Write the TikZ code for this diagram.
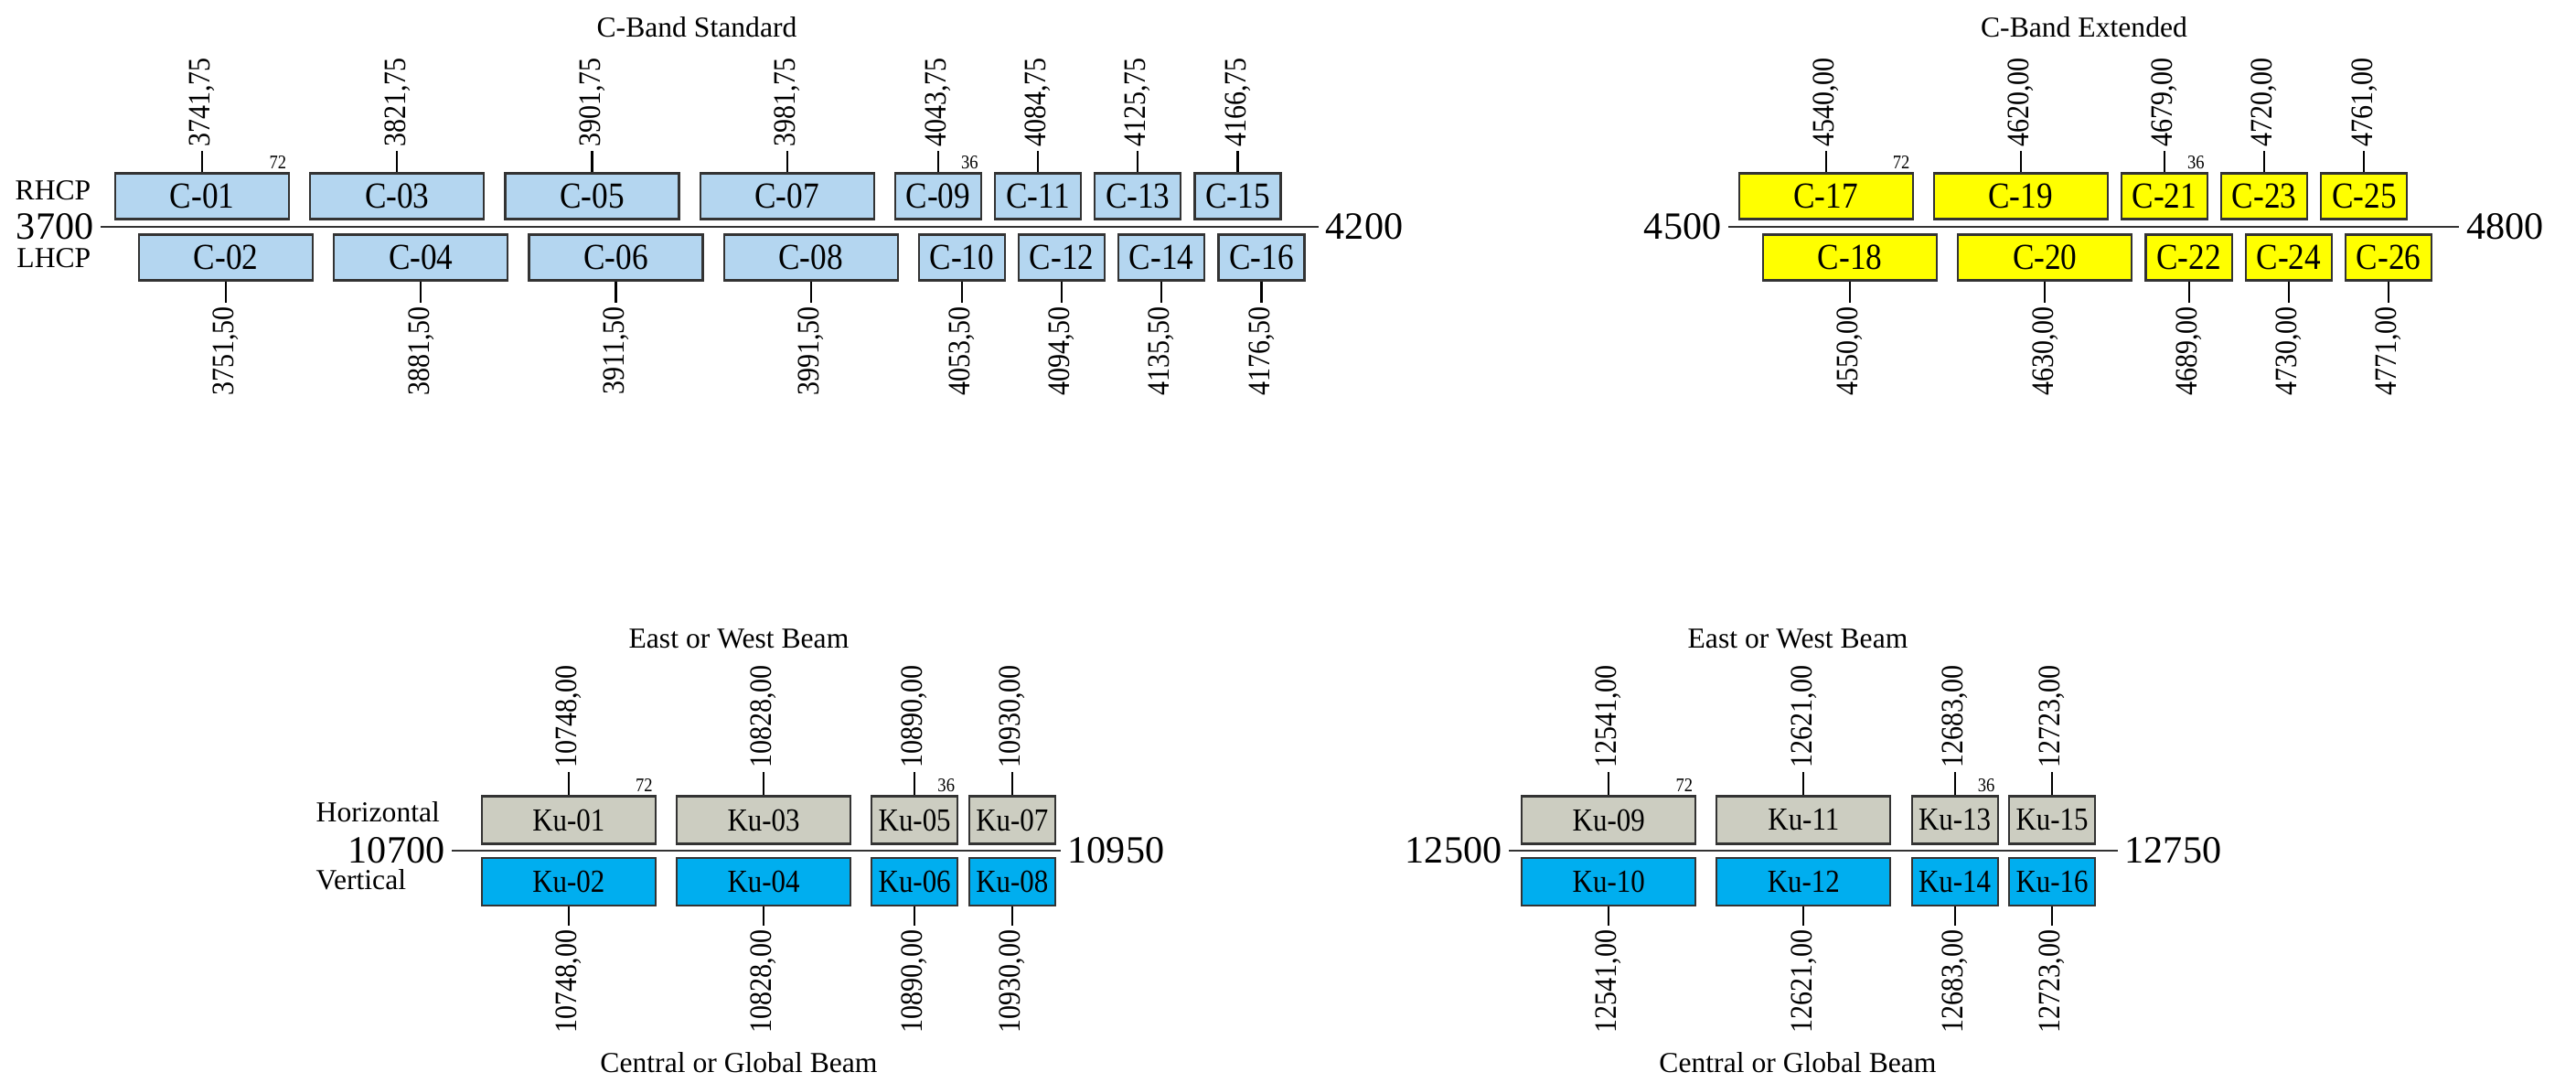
\documentclass[tikz,border=0pt]{standalone}
\usepackage{fontspec}
\setmainfont{Liberation Serif}
\newfontfamily\condfont[FakeStretch=0.88]{Liberation Serif}
\usetikzlibrary{positioning}
\definecolor{cstd}{RGB}{180,214,240}
\definecolor{cext}{RGB}{255,255,0}
\definecolor{kuhor}{RGB}{204,205,193}
\definecolor{kuver}{RGB}{0,174,239}
\definecolor{edgegray}{RGB}{51,51,51}
\tikzstyle{chan} = [draw=edgegray, line width=0.6pt, rectangle, minimum height=0.5cm, inner sep=0pt,
    font=\condfont\fontsize{11.4}{12}\selectfont]
\tikzstyle{kuchan} = [chan, minimum height=0.52cm, font=\condfont\fontsize{10}{11}\selectfont]
\tikzstyle{upnum} = [rotate=90, anchor=west, inner sep=1pt, font=\condfont\fontsize{9.7}{10}\selectfont]
\tikzstyle{downnum} = [upnum, anchor=east]
\tikzstyle{band} = [font=\fontsize{9}{10}\selectfont]
\tikzstyle{pol} = [font=\fontsize{9}{10}\selectfont, inner sep=0pt]
\tikzstyle{edgenum} = [font=\fontsize{12}{13}\selectfont, inner sep=2pt]
\tikzstyle{bw} = [anchor=south east, inner sep=1pt, font=\condfont\fontsize{6}{7}\selectfont]
\tikzstyle{axis} = [draw=edgegray, line width=0.8pt]
\tikzstyle{tick} = [draw=black, line width=0.6pt]

\begin{document}
\begin{tikzpicture}
\useasboundingbox (0,0) rectangle (28.17,11.83);

% C-Band Standard
\node[band] (tstd) at (7.62,11.53) {C-Band Standard};
\node[pol, anchor=east] (rhcp) at (1.00,9.75) {RHCP};
\node[pol, anchor=east] (lhcp) at (1.00,9.01) {LHCP};
\begin{scope}[shift={(1.10cm,9.35cm)}, x=0.02664cm, y=1cm]
  \coordinate (A0) at (0,0);
  \coordinate (A1) at (500,0);
  \draw[axis] (A0) -- (A1);
  \node[edgenum, left=0pt of A0] (f3700) {3700};
  \node[edgenum, right=0pt of A1] (f4200) {4200};
  \foreach \f/\n/\w/\t in {41.75/01/1.9/{3741,75}, 121.75/03/1.9/{3821,75}, 201.75/05/1.9/{3901,75},
      281.75/07/1.9/{3981,75}, 343.75/09/0.94/{4043,75}, 384.75/11/0.94/{4084,75},
      425.75/13/0.94/{4125,75}, 466.75/15/0.94/{4166,75}} {
    \node[chan, fill=cstd, minimum width=\w cm] (C\n) at (\f,0.335) {C-\n};
    \draw[tick] (C\n.north) -- ++(0,0.23) node[upnum] {\t};
  }
  \foreach \f/\n/\w/\t in {51.5/02/1.9/{3751,50}, 131.5/04/1.9/{3881,50}, 211.5/06/1.9/{3911,50},
      291.5/08/1.9/{3991,50}, 353.5/10/0.94/{4053,50}, 394.5/12/0.94/{4094,50},
      435.5/14/0.94/{4135,50}, 476.5/16/0.94/{4176,50}} {
    \node[chan, fill=cstd, minimum width=\w cm] (C\n) at (\f,-0.335) {C-\n};
    \draw[tick] (C\n.south) -- ++(0,-0.23) node[downnum] {\t};
  }
  \node[bw] at (C01.north east) {72};
  \node[bw] at (C09.north east) {36};
\end{scope}

% C-Band Extended
\node[band] (text) at (22.79,11.53) {C-Band Extended};
\begin{scope}[shift={(18.90cm,9.35cm)}, x=0.02664cm, y=1cm]
  \coordinate (B0) at (0,0);
  \coordinate (B1) at (300,0);
  \draw[axis] (B0) -- (B1);
  \node[edgenum, left=0pt of B0] (f4500) {4500};
  \node[edgenum, right=0pt of B1] (f4800) {4800};
  \foreach \f/\n/\w/\t in {40/17/1.9/{4540,00}, 120/19/1.9/{4620,00}, 179/21/0.94/{4679,00},
      220/23/0.94/{4720,00}, 261/25/0.94/{4761,00}} {
    \node[chan, fill=cext, minimum width=\w cm] (C\n) at (\f,0.335) {C-\n};
    \draw[tick] (C\n.north) -- ++(0,0.23) node[upnum] {\t};
  }
  \foreach \f/\n/\w/\t in {50/18/1.9/{4550,00}, 130/20/1.9/{4630,00}, 189/22/0.94/{4689,00},
      230/24/0.94/{4730,00}, 271/26/0.94/{4771,00}} {
    \node[chan, fill=cext, minimum width=\w cm] (C\n) at (\f,-0.335) {C-\n};
    \draw[tick] (C\n.south) -- ++(0,-0.23) node[downnum] {\t};
  }
  \node[bw] at (C17.north east) {72};
  \node[bw] at (C21.north east) {36};
\end{scope}

% Ku-Band 10700-10950
\node[band] (ewa) at (8.08,4.85) {East or West Beam};
\node[band] (cga) at (8.08,0.21) {Central or Global Beam};
\node[pol, anchor=west] (hor) at (3.45,2.95) {Horizontal};
\node[pol, anchor=west] (ver) at (3.45,2.21) {Vertical};
\begin{scope}[shift={(4.94cm,2.53cm)}, x=0.02664cm, y=1cm]
  \coordinate (K0) at (0,0);
  \coordinate (K1) at (250,0);
  \draw[axis] (K0) -- (K1);
  \node[edgenum, left=0pt of K0] (f10700) {10700};
  \node[edgenum, right=0pt of K1] (f10950) {10950};
  \foreach \f/\n/\w/\t in {48/01/1.9/{10748,00}, 128/03/1.9/{10828,00},
      190/05/0.94/{10890,00}, 230/07/0.94/{10930,00}} {
    \node[kuchan, fill=kuhor, minimum width=\w cm] (K\n) at (\f,0.335) {Ku-\n};
    \draw[tick] (K\n.north) -- ++(0,0.25) node[upnum] {\t};
  }
  \foreach \f/\n/\w/\t in {48/02/1.9/{10748,00}, 128/04/1.9/{10828,00},
      190/06/0.94/{10890,00}, 230/08/0.94/{10930,00}} {
    \node[kuchan, fill=kuver, minimum width=\w cm] (K\n) at (\f,-0.34) {Ku-\n};
    \draw[tick] (K\n.south) -- ++(0,-0.21) node[downnum] {\t};
  }
  \node[bw] at (K01.north east) {72};
  \node[bw] at (K05.north east) {36};
\end{scope}

% Ku-Band 12500-12750
\node[band] (ewb) at (19.66,4.85) {East or West Beam};
\node[band] (cgb) at (19.66,0.21) {Central or Global Beam};
\begin{scope}[shift={(16.50cm,2.53cm)}, x=0.02664cm, y=1cm]
  \coordinate (L0) at (0,0);
  \coordinate (L1) at (250,0);
  \draw[axis] (L0) -- (L1);
  \node[edgenum, left=0pt of L0] (f12500) {12500};
  \node[edgenum, right=0pt of L1] (f12750) {12750};
  \foreach \f/\n/\w/\t in {41/09/1.9/{12541,00}, 121/11/1.9/{12621,00},
      183/13/0.94/{12683,00}, 223/15/0.94/{12723,00}} {
    \node[kuchan, fill=kuhor, minimum width=\w cm] (K\n) at (\f,0.335) {Ku-\n};
    \draw[tick] (K\n.north) -- ++(0,0.25) node[upnum] {\t};
  }
  \foreach \f/\n/\w/\t in {41/10/1.9/{12541,00}, 121/12/1.9/{12621,00},
      183/14/0.94/{12683,00}, 223/16/0.94/{12723,00}} {
    \node[kuchan, fill=kuver, minimum width=\w cm] (K\n) at (\f,-0.34) {Ku-\n};
    \draw[tick] (K\n.south) -- ++(0,-0.21) node[downnum] {\t};
  }
  \node[bw] at (K09.north east) {72};
  \node[bw] at (K13.north east) {36};
\end{scope}
\end{tikzpicture}
\end{document}
